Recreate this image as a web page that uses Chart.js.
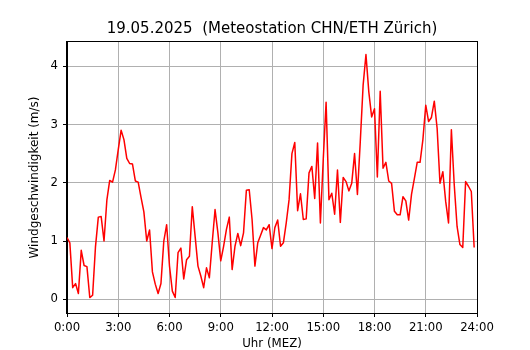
<!DOCTYPE html>
<html>
<head>
<meta charset="utf-8">
<script src="https://cdn.jsdelivr.net/npm/chart.js@4/dist/chart.umd.min.js"></script>
<style>
  html, body { margin: 0; padding: 0; background: #fff; }
  canvas { display: block; }
</style>
</head>
<body>
<canvas id="wind" width="530" height="350"></canvas>
<script>
// Windgeschwindigkeit, 10-Minuten-Werte ab 0:00 (m/s)
var windSpeed = [
  1.06, 0.97, 0.20, 0.27, 0.10, 0.84, 0.58, 0.56, 0.03, 0.07, 0.90, 1.41,
  1.42, 1.00, 1.70, 2.04, 2.01, 2.22, 2.57, 2.90, 2.74, 2.42, 2.33, 2.32,
  2.03, 2.01, 1.75, 1.50, 1.00, 1.19, 0.47, 0.26, 0.10, 0.27, 1.00, 1.28,
  0.57, 0.14, 0.03, 0.80, 0.88, 0.35, 0.68, 0.74, 1.59, 1.08, 0.57, 0.40,
  0.20, 0.54, 0.37, 0.97, 1.54, 1.14, 0.66, 0.91, 1.20, 1.41, 0.51, 0.91,
  1.13, 0.92, 1.14, 1.87, 1.88, 1.37, 0.57, 0.97, 1.10, 1.23, 1.19, 1.28,
  0.87, 1.23, 1.36, 0.91, 0.97, 1.31, 1.71, 2.50, 2.69, 1.52, 1.81, 1.37,
  1.38, 2.17, 2.28, 1.73, 2.68, 1.31, 2.40, 3.38, 1.71, 1.82, 1.46, 2.22,
  1.32, 2.09, 2.02, 1.86, 1.99, 2.50, 1.80, 2.70, 3.67, 4.20, 3.56, 3.13,
  3.27, 2.10, 3.57, 2.25, 2.35, 2.03, 1.99, 1.51, 1.45, 1.45, 1.76, 1.69,
  1.36, 1.80, 2.07, 2.35, 2.35, 2.74, 3.33, 3.05, 3.12, 3.40, 2.93, 1.99,
  2.19, 1.68, 1.31, 2.91, 1.97, 1.25, 0.94, 0.89, 2.02, 1.94, 1.85, 0.89
];
var stepMinutes = 10;
var xTickValues = [0, 180, 360, 540, 720, 900, 1080, 1260, 1440];
var xTickLabels = ['0:00', '3:00', '6:00', '9:00', '12:00', '15:00', '18:00', '21:00', '24:00'];
var yTickValues = [0, 1, 2, 3, 4];

var points = [];
for (var i = 0; i < windSpeed.length; i++) {
  points.push({x: i * stepMinutes, y: windSpeed[i]});
}

var font = "'DejaVu Sans', sans-serif";

// Rahmen und Titel wie bei matplotlib
var framePlugin = {
  id: 'frame',
  afterDraw: function(chart) {
    var a = chart.chartArea, ctx = chart.ctx;
    ctx.save();
    ctx.strokeStyle = '#000';
    ctx.lineWidth = 1;
    ctx.strokeRect(a.left - 0.5, a.top - 0.5, a.right - a.left + 1, a.bottom - a.top + 1);
    ctx.fillStyle = '#000';
    ctx.font = '15px ' + font;
    ctx.textAlign = 'center';
    ctx.textBaseline = 'alphabetic';
    ctx.fillText('19.05.2025  (Meteostation CHN/ETH Z\u00fcrich)', (a.left + a.right) / 2, 33);
    ctx.restore();
  }
};

new Chart(document.getElementById('wind'), {
  type: 'line',
  data: {
    datasets: [{
      data: points,
      borderColor: '#ff0000',
      borderWidth: 1.5,
      borderJoinStyle: 'round',
      pointRadius: 0,
      tension: 0,
      fill: false
    }]
  },
  options: {
    responsive: false,
    animation: false,
    events: [],
    layout: {padding: {top: 42, right: 53, bottom: 0, left: 0}},
    plugins: {legend: {display: false}, title: {display: false}, tooltip: {enabled: false}},
    scales: {
      x: {
        type: 'linear',
        min: 0,
        max: 1440,
        afterFit: function(s) { s.height = 37; },
        afterBuildTicks: function(s) {
          s.ticks = xTickValues.map(function(v) { return {value: v}; });
        },
        ticks: {
          color: '#000',
          font: {family: font, size: 11.7},
          padding: 4,
          maxRotation: 0,
          autoSkip: false,
          callback: function(v) { return xTickLabels[xTickValues.indexOf(v)]; }
        },
        grid: {color: '#b0b0b0', lineWidth: 1, tickColor: '#000', tickLength: 4},
        border: {color: '#000', width: 1},
        title: {
          display: true,
          text: 'Uhr (MEZ)',
          color: '#000',
          font: {family: font, size: 11.8, lineHeight: 1},
          padding: {top: 0, bottom: 0}
        }
      },
      y: {
        min: -0.235,
        max: 4.415,
        afterFit: function(s) { s.width = 67; },
        afterBuildTicks: function(s) {
          s.ticks = yTickValues.map(function(v) { return {value: v}; });
        },
        ticks: {
          color: '#000',
          font: {family: font, size: 11.7},
          padding: 5,
          callback: function(v) { return String(v); }
        },
        grid: {color: '#b0b0b0', lineWidth: 1, tickColor: '#000', tickLength: 4},
        border: {color: '#000', width: 1},
        title: {
          display: true,
          text: 'Windgeschwindigkeit (m/s)',
          color: '#000',
          font: {family: font, size: 12, lineHeight: 1.2},
          padding: {top: 28, bottom: 0}
        }
      }
    }
  },
  plugins: [framePlugin]
});
</script>
</body>
</html>
